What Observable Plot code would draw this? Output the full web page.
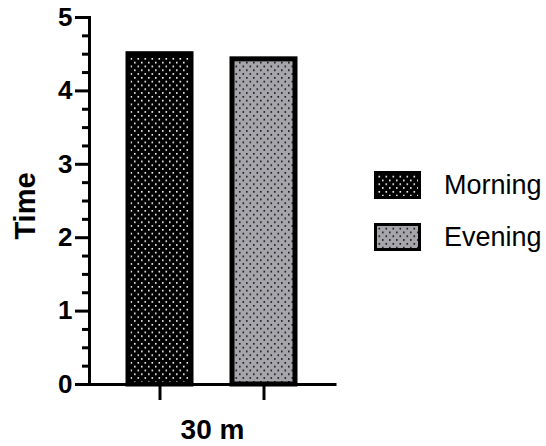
<!DOCTYPE html>
<html>
<head>
<meta charset="utf-8">
<script src="https://cdn.jsdelivr.net/npm/d3@7"></script>
<script src="https://cdn.jsdelivr.net/npm/@observablehq/plot@0.6"></script>
<style>
  html, body { margin: 0; padding: 0; background: #fff; }
  #chart { position: relative; width: 546px; height: 446px; font-family: "Liberation Sans", Arial, Helvetica, sans-serif; }
  #legend { position: absolute; left: 374px; top: 171px; }
  .item { display: flex; align-items: center; height: 28px; margin-bottom: 24px; }
  .item svg { display: block; }
  .item span { font-size: 27px; margin-left: 23px; color: #000; line-height: 28px; }
</style>
</head>
<body>
<svg width="0" height="0" style="position:absolute">
  <defs>
    <pattern id="morning-dots" patternUnits="userSpaceOnUse" width="7" height="7.6">
      <rect width="7" height="7.6" fill="#000"/>
      <rect x="1" y="1" width="1.6" height="1.6" fill="#fff"/>
      <rect x="4.5" y="4.8" width="1.6" height="1.6" fill="#fff"/>
    </pattern>
    <pattern id="evening-dots" patternUnits="userSpaceOnUse" width="7" height="7.6">
      <rect width="7" height="7.6" fill="#a5a5ab"/>
      <rect x="1" y="1" width="1.6" height="1.6" fill="#111"/>
      <rect x="4.5" y="4.8" width="1.6" height="1.6" fill="#111"/>
    </pattern>
  </defs>
</svg>
<div id="chart"><div id="legend"></div></div>
<script>
// Series and values
const group = "30 m";
const series = ["Morning", "Evening"];
const values = [4.5, 4.43];
const patternIds = ["morning-dots", "evening-dots"];
const yTicks = [0, 1, 2, 3, 4, 5];
const yMinorTicks = [0.25, 0.5, 0.75, 1.25, 1.5, 1.75, 2.25, 2.5, 2.75, 3.25, 3.5, 3.75, 4.25, 4.5, 4.75];
const yLabel = "Time";

const data = series.map((s, i) => ({series: s, value: values[i], fill: `url(#${patternIds[i]})`}));

const font = "'Liberation Sans', Arial, Helvetica, sans-serif";

const chart = Plot.plot({
  width: 546,
  height: 446,
  marginLeft: 89,
  marginRight: 211,
  marginTop: 17,
  marginBottom: 62,
  style: {fontFamily: font, background: "transparent", color: "#000", overflow: "visible"},
  x: {domain: series, paddingInner: 0.39, paddingOuter: 0.367},
  y: {domain: [0, 5]},
  color: {type: "identity"},
  marks: [
    Plot.barY(data, {x: "series", y: "value", fill: "fill", stroke: "#000", strokeWidth: 5}),
    Plot.frame({anchor: "left", strokeWidth: 3, stroke: "#000"}),
    Plot.ruleY([0], {strokeWidth: 3, stroke: "#000", strokeLinecap: "square"}),
    Plot.axisY(yMinorTicks, {tickSize: 7, strokeWidth: 3, tickFormat: () => "", label: null}),
    Plot.axisY(yTicks, {
      tickSize: 14, tickPadding: 3, strokeWidth: 3,
      tickFormat: d3.format("d"),
      fontSize: 26, fontWeight: "bold", label: null
    }),
    Plot.axisX({tickSize: 16, strokeWidth: 3, tickFormat: () => "", label: null}),
    // axis titles
    Plot.text([yLabel], {
      frameAnchor: "left", rotate: -90, dx: -64, dy: 5,
      fontSize: 29, fontWeight: "bold", textAnchor: "middle", lineAnchor: "middle"
    }),
    Plot.text([group], {
      frameAnchor: "bottom", dy: 46,
      fontSize: 28, fontWeight: "bold", textAnchor: "middle", lineAnchor: "middle"
    })
  ]
});

const container = document.getElementById("chart");
container.insertBefore(chart, container.firstChild);

// Legend to the right of the plot
const legend = d3.select("#legend");
series.forEach((s, i) => {
  const item = legend.append("div").attr("class", "item");
  const sw = item.append("svg").attr("width", 47).attr("height", 28);
  sw.append("rect")
    .attr("x", 1.5).attr("y", 1.5).attr("width", 44).attr("height", 25)
    .attr("fill", `url(#${patternIds[i]})`)
    .attr("stroke", "#000").attr("stroke-width", 3);
  item.append("span").text(s);
});
</script>
</body>
</html>
